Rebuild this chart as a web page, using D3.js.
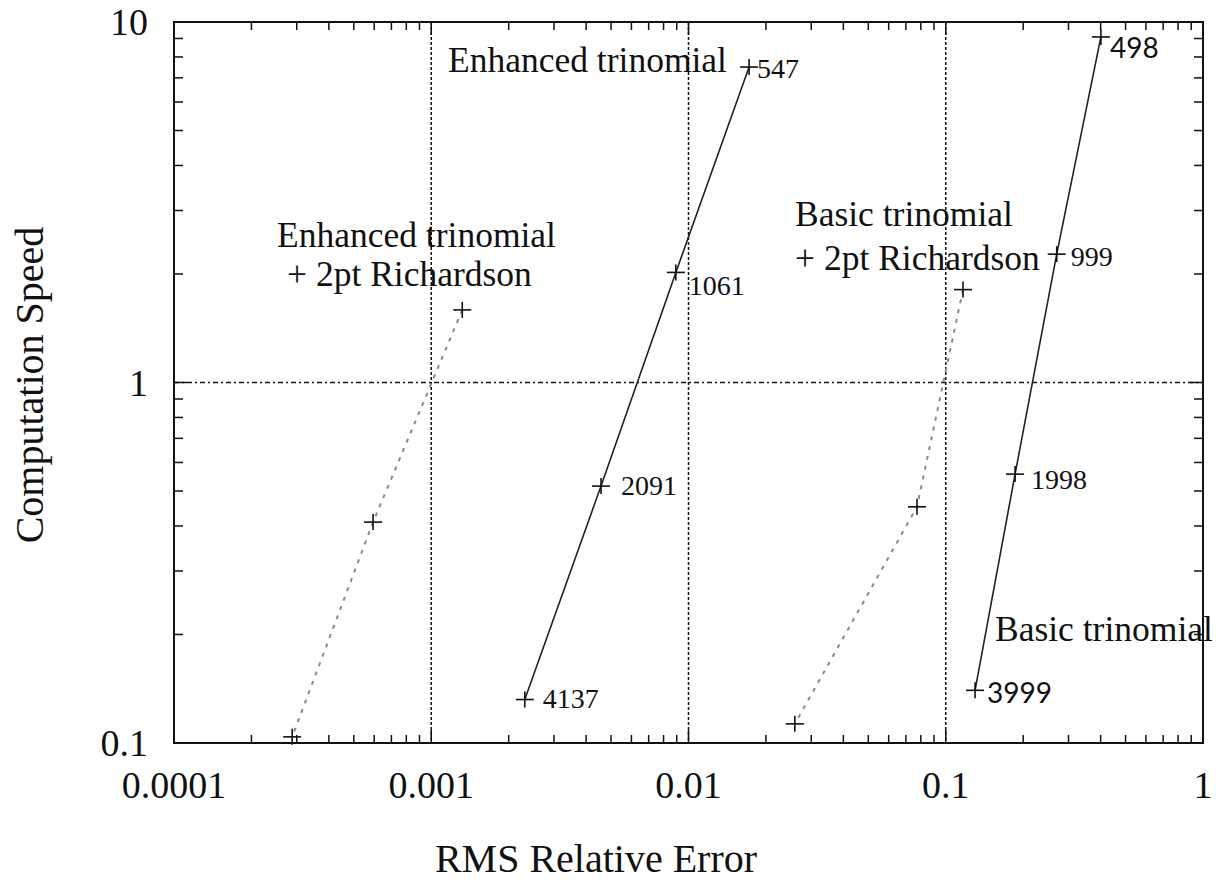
<!DOCTYPE html>
<html><head><meta charset="utf-8">
<script src="https://cdn.jsdelivr.net/npm/d3@7"></script>
<style>body{margin:0;background:#fff}svg{display:block}</style>
</head><body>
<script>
// ---- data ----
const xTicks = [0.0001, 0.001, 0.01, 0.1, 1];
const xTickLabels = ["0.0001", "0.001", "0.01", "0.1", "1"];
const yTicks = [0.1, 1, 10];
const yTickLabels = ["0.1", "1", "10"];

const enhancedErr   = [0.0172, 0.00893, 0.00457, 0.00231];
const enhancedSpeed = [7.50, 2.02, 0.516, 0.132];
const enhancedSteps = ["547", "1061", "2091", "4137"];

const enhRichErr   = [0.00132, 0.000594, 0.000288];
const enhRichSpeed = [1.59, 0.410, 0.104];

const basicRichErr   = [0.1167, 0.0773, 0.0259];
const basicRichSpeed = [1.81, 0.452, 0.113];

const basicErr   = [0.401, 0.270, 0.186, 0.130];
const basicSpeed = [9.09, 2.27, 0.557, 0.140];
const basicSteps = ["498", "999", "1998", "3999"];

// ---- layout ----
const W = 1216, H = 884;
const L = 174, R = 1203, T = 22, B = 743;
const svg = d3.select("body").append("svg").attr("width", W).attr("height", H);
const x = d3.scaleLog().domain([1e-4, 1]).range([L, R]);
const y = d3.scaleLog().domain([0.1, 10]).range([B, T]);
const serif = "'Liberation Serif','Times New Roman',serif";
const ink = "#111";

// grid
svg.append("g").selectAll("line").data([0.001, 0.01, 0.1]).join("line")
  .attr("x1", d => x(d)).attr("x2", d => x(d)).attr("y1", T).attr("y2", B)
  .attr("stroke", ink).attr("stroke-width", 1.5).attr("stroke-dasharray", "3,2");
svg.append("line").attr("x1", L).attr("x2", R).attr("y1", y(1)).attr("y2", y(1))
  .attr("stroke", ink).attr("stroke-width", 1.5).attr("stroke-dasharray", "5,3,2,3");

// ticks (inward, all sides)
const minorX = [], minorY = [];
for (let e = -4; e < 0; e++) for (let m = 2; m <= 9; m++) minorX.push(m * Math.pow(10, e));
for (let e = -1; e < 1; e++) for (let m = 2; m <= 9; m++) minorY.push(m * Math.pow(10, e));
const tg = svg.append("g").attr("stroke", ink).attr("stroke-width", 1.5);
function xt(vals, len) {
  vals.forEach(v => {
    tg.append("line").attr("x1", x(v)).attr("x2", x(v)).attr("y1", B).attr("y2", B - len);
    tg.append("line").attr("x1", x(v)).attr("x2", x(v)).attr("y1", T).attr("y2", T + len);
  });
}
function yt(vals, len) {
  vals.forEach(v => {
    tg.append("line").attr("y1", y(v)).attr("y2", y(v)).attr("x1", L).attr("x2", L + len);
    tg.append("line").attr("y1", y(v)).attr("y2", y(v)).attr("x1", R).attr("x2", R - len);
  });
}
xt(minorX, 8); xt(xTicks, 13);
yt(minorY, 9); yt(yTicks, 13);

// frame
svg.append("rect").attr("x", L).attr("y", T).attr("width", R - L).attr("height", B - T)
  .attr("fill", "none").attr("stroke", ink).attr("stroke-width", 2);

// tick labels
svg.append("g").selectAll("text").data(xTicks).join("text")
  .attr("x", d => x(d)).attr("y", 798).attr("text-anchor", "middle")
  .attr("font-family", serif).attr("font-size", 38).attr("fill", ink)
  .text((d, i) => xTickLabels[i]);
svg.append("g").selectAll("text").data(yTicks).join("text")
  .attr("x", 148).attr("y", d => y(d) + 13).attr("text-anchor", "end")
  .attr("font-family", serif).attr("font-size", 38).attr("fill", ink)
  .text((d, i) => yTickLabels[i]);

// axis titles
svg.append("text").attr("x", 596).attr("y", 872).attr("text-anchor", "middle")
  .attr("font-family", serif).attr("font-size", 40).attr("fill", ink).text("RMS Relative Error");
svg.append("text").attr("transform", "translate(43,385) rotate(-90)").attr("text-anchor", "middle")
  .attr("font-family", serif).attr("font-size", 40).attr("fill", ink).text("Computation Speed");

// series
const line = d3.line().x(d => x(d[0])).y(d => y(d[1]));
function series(errs, speeds, style) {
  const pts = errs.map((e, i) => [e, speeds[i]]);
  svg.append("path").datum(pts).attr("d", line).attr("fill", "none")
    .attr("stroke", style.color).attr("stroke-width", style.width)
    .attr("stroke-dasharray", style.dash || null);
  const g = svg.append("g").attr("stroke", ink).attr("stroke-width", 1.6);
  pts.forEach(p => {
    const cx = x(p[0]), cy = y(p[1]);
    g.append("line").attr("x1", cx - 9).attr("x2", cx + 9).attr("y1", cy).attr("y2", cy);
    g.append("line").attr("x1", cx).attr("x2", cx).attr("y1", cy - 8).attr("y2", cy + 8);
  });
  return pts;
}
const solid = {color: "#222", width: 1.6};
const dashed = {color: "#8a8a8a", width: 2, dash: "4,6"};
const enhPts = series(enhancedErr, enhancedSpeed, solid);
series(enhRichErr, enhRichSpeed, dashed);
series(basicRichErr, basicRichSpeed, dashed);
const basPts = series(basicErr, basicSpeed, solid);

// point labels
const enhOff = [[8, 11], [13, 23], [20, 9], [18, 8]];
enhPts.forEach((p, i) => {
  svg.append("text").attr("x", x(p[0]) + enhOff[i][0]).attr("y", y(p[1]) + enhOff[i][1])
    .attr("font-family", serif).attr("font-size", 28).attr("fill", ink).text(enhancedSteps[i]);
});
const basOff = [[9, 21], [14, 12], [16, 15], [12, 13]];
const basFont = ["'Lato','Open Sans',sans-serif", serif, serif, "'Lato','Open Sans',sans-serif"];
basPts.forEach((p, i) => {
  svg.append("text").attr("x", x(p[0]) + basOff[i][0]).attr("y", y(p[1]) + basOff[i][1])
    .attr("font-family", basFont[i]).attr("font-size", 28).attr("fill", ink).text(basicSteps[i]);
});

// annotations
const notes = [
  ["Enhanced trinomial", 448, 72],
  ["Enhanced trinomial", 277, 247],
  ["+ 2pt Richardson", 287, 286],
  ["Basic trinomial", 795, 226],
  ["+ 2pt Richardson", 795, 270],
  ["Basic trinomial", 995, 641]
];
svg.append("g").selectAll("text").data(notes).join("text")
  .attr("x", d => d[1]).attr("y", d => d[2])
  .attr("font-family", serif).attr("font-size", 35.5).attr("fill", ink)
  .text(d => d[0]);
</script>
</body></html>
